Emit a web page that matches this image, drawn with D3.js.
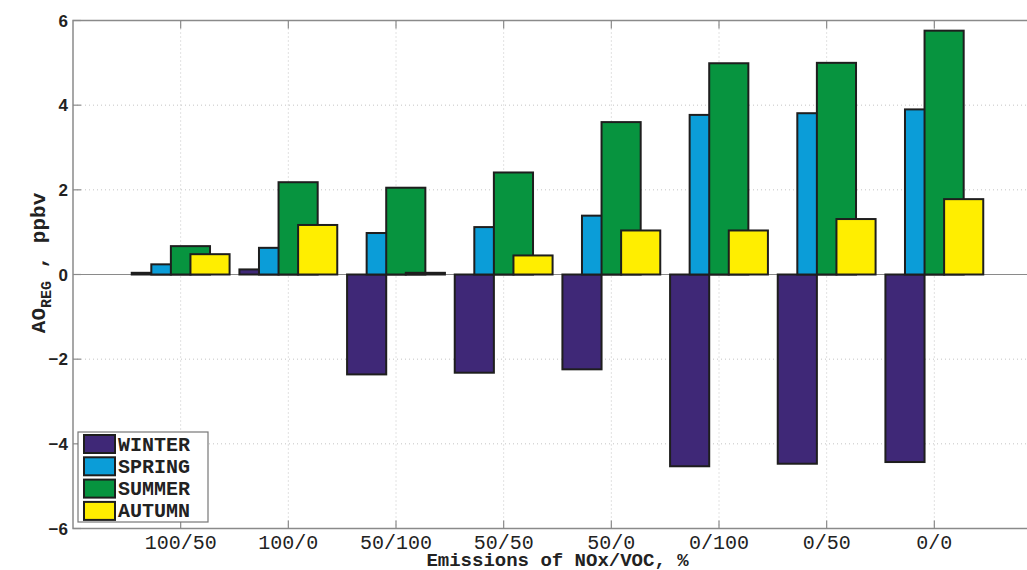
<!DOCTYPE html>
<html>
<head>
<meta charset="utf-8">
<script src="https://cdn.jsdelivr.net/npm/d3@7"></script>
<style>
body { margin: 0; background: #fff; }
svg { display: block; }
.ytick text { font-family: "Liberation Sans", Arial, sans-serif; font-weight: bold; font-size: 17px; fill: #222; }
.xtick text { font-family: "Liberation Mono", "Courier New", monospace; font-size: 20px; fill: #222; }
.mono-b { font-family: "Liberation Mono", "Courier New", monospace; font-weight: bold; fill: #222; }
</style>
</head>
<body>
<svg id="chart" width="1027" height="570"></svg>
<script>
// categories and season values
const categories = ["100/50", "100/0", "50/100", "50/50", "50/0", "0/100", "0/50", "0/0"];
const winter = [0.04, 0.12, -2.36, -2.32, -2.24, -4.53, -4.47, -4.43];
const spring = [0.24, 0.63, 0.98, 1.12, 1.39, 3.77, 3.81, 3.90];
const summer = [0.67, 2.18, 2.05, 2.41, 3.60, 4.99, 5.00, 5.76];
const autumn = [0.48, 1.17, 0.04, 0.45, 1.04, 1.04, 1.31, 1.78];
const seasonNames = ["WINTER", "SPRING", "SUMMER", "AUTUMN"];
const seasonColors = ["#3f2877", "#0b9dd8", "#07943f", "#ffee00"];
const yTicks = [-6, -4, -2, 0, 2, 4, 6];

const series = [winter, spring, summer, autumn];

const width = 1027, height = 570;
const marginLeft = 73, marginTop = 20.5;
const plotBottom = 528.5;
// axis runs 0..9 (matlab style), right edge falls off the picture
const plotRight = 1042;

const svg = d3.select("#chart");

const x = d3.scaleLinear().domain([0, categories.length + 1]).range([marginLeft, plotRight]);
const y = d3.scaleLinear().domain([-6, 6]).range([plotBottom, marginTop]);

const groupW = 0.727;
const step = groupW / series.length;
const barW = step * 2;

// grid
svg.append("g")
    .selectAll("line")
    .data(yTicks.filter(d => d !== 0 && Math.abs(d) !== 6))
    .join("line")
    .attr("x1", marginLeft).attr("x2", plotRight)
    .attr("y1", d => y(d)).attr("y2", d => y(d))
    .attr("stroke", "#c4c4c4").attr("stroke-width", 1)
    .attr("stroke-dasharray", "1,3");

svg.append("g")
    .selectAll("line")
    .data(categories)
    .join("line")
    .attr("x1", (d, i) => x(i + 1)).attr("x2", (d, i) => x(i + 1))
    .attr("y1", marginTop).attr("y2", plotBottom)
    .attr("stroke", "#c4c4c4").attr("stroke-width", 1)
    .attr("stroke-dasharray", "1,3");

// baseline
svg.append("line")
    .attr("x1", marginLeft).attr("x2", plotRight)
    .attr("y1", y(0)).attr("y2", y(0))
    .attr("stroke", "#8a8a8a").attr("stroke-width", 1.2);

// bars, one series after another so later ones sit on top
series.forEach((vals, k) => {
    svg.append("g")
        .selectAll("rect")
        .data(vals)
        .join("rect")
        .attr("x", (d, i) => x(i + 1 + (k - 1.5) * step - barW / 2))
        .attr("width", x(barW) - x(0))
        .attr("y", d => y(Math.max(0, d)))
        .attr("height", d => Math.abs(y(d) - y(0)))
        .attr("fill", seasonColors[k])
        .attr("stroke", "#1e1e1e")
        .attr("stroke-width", 2);
});

// axes box (top, left, bottom)
const axisColor = "#8a8a8a";
svg.append("path")
    .attr("d", `M${plotRight},${marginTop}H${marginLeft}V${plotBottom}H${plotRight}`)
    .attr("fill", "none").attr("stroke", axisColor).attr("stroke-width", 1.5);

// x ticks + labels
const xt = svg.append("g").attr("class", "xtick")
    .selectAll("g")
    .data(categories)
    .join("g")
    .attr("transform", (d, i) => `translate(${x(i + 1)},0)`);
xt.append("line").attr("y1", marginTop).attr("y2", marginTop + 8).attr("stroke", axisColor).attr("stroke-width", 1.2);
xt.append("line").attr("y1", plotBottom).attr("y2", plotBottom - 8).attr("stroke", axisColor).attr("stroke-width", 1.2);
xt.append("text")
    .attr("y", 549)
    .attr("text-anchor", "middle")
    .text(d => d);

// y ticks + labels
const yt = svg.append("g").attr("class", "ytick")
    .selectAll("g")
    .data(yTicks)
    .join("g")
    .attr("transform", d => `translate(0,${y(d)})`);
yt.append("line").attr("x1", marginLeft).attr("x2", marginLeft + 8).attr("stroke", axisColor).attr("stroke-width", 1.2);
yt.append("text")
    .attr("x", 68)
    .attr("dy", "0.36em")
    .attr("text-anchor", "end")
    .text(d => d < 0 ? "\u2212" + Math.abs(d) : d);

// axis titles
svg.append("text")
    .attr("class", "mono-b")
    .attr("x", (marginLeft + plotRight) / 2)
    .attr("y", 566)
    .attr("text-anchor", "middle")
    .attr("font-size", 19)
    .text("Emissions of NOx/VOC, %");

const yl = svg.append("text")
    .attr("class", "mono-b")
    .attr("transform", "translate(45,263) rotate(-90)")
    .attr("text-anchor", "middle")
    .attr("font-size", 21);
yl.append("tspan").text("AO");
yl.append("tspan").attr("font-size", 15).attr("dy", 6).text("REG");
yl.append("tspan").attr("dy", -6).text(" , ppbv");

// legend
const lg = svg.append("g").attr("transform", "translate(78,432)");
lg.append("rect")
    .attr("width", 130).attr("height", 90)
    .attr("fill", "#fff").attr("stroke", "#777").attr("stroke-width", 1.2);
const row = lg.selectAll("g.row")
    .data(seasonNames)
    .join("g")
    .attr("class", "row")
    .attr("transform", (d, i) => `translate(0,${3 + i * 22.3})`);
row.append("rect")
    .attr("x", 6).attr("width", 31).attr("height", 18)
    .attr("fill", (d, i) => seasonColors[i])
    .attr("stroke", "#1e1e1e").attr("stroke-width", 2);
row.append("text")
    .attr("class", "mono-b")
    .attr("x", 40).attr("y", 15.5)
    .attr("font-size", 20)
    .text(d => d);
</script>
</body>
</html>
